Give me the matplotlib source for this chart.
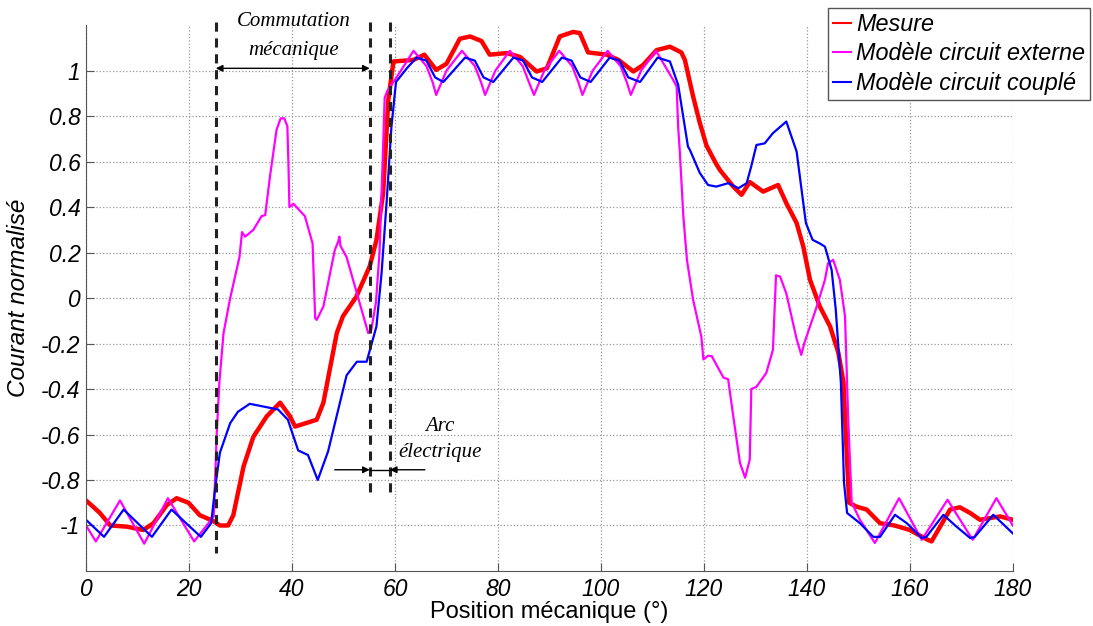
import matplotlib
matplotlib.use("Agg")
import matplotlib.pyplot as plt
import numpy as np

plt.rcParams['axes.unicode_minus'] = False

# ---- data ----
# Mesure (red)
x_mes = [0, 1.0, 2.7, 4.7, 7.9, 11.1, 13.1, 15.7, 17.6, 19.9, 22.1, 24.7, 26.0, 27.6,
         28.6, 30.6, 32.5, 35.1, 37.7, 39.6, 40.6, 44.8, 46.1, 48.7, 49.9, 52.5, 55.1,
         56.4, 57.7, 58.7, 59.7, 63.6, 65.7, 68.0, 70.0, 72.6, 74.6, 76.8, 78.4, 81.7,
         84.3, 87.5, 89.5, 92.0, 94.6, 95.9, 97.5, 101.1, 103.4, 106.3, 108.2, 110.8,
         113.4, 115.6, 116.3, 117.9, 119.2, 120.5, 122.3, 123.1, 125.7, 127.3, 128.9,
         131.5, 134.4, 136.0, 138.0, 139.3, 140.6, 142.5, 144.5, 146.1, 147.1, 147.7,
         148.2, 149.6, 151.6, 154.2, 157.0, 160.0, 163.2, 164.2, 166.0, 167.8, 169.7,
         171.7, 173.6, 177.5, 180]
y_mes = [-0.89, -0.91, -0.945, -1.0, -1.005, -1.02, -0.99, -0.91, -0.88, -0.90, -0.955,
         -0.98, -1.0, -1.0, -0.955, -0.74, -0.61, -0.52, -0.46, -0.52, -0.565, -0.535,
         -0.46, -0.154, -0.08, 0.006, 0.14, 0.255, 0.46, 0.87, 1.04, 1.047, 1.07, 1.003,
         1.03, 1.14, 1.15, 1.13, 1.07, 1.077, 1.06, 0.996, 1.01, 1.15, 1.17, 1.165, 1.08,
         1.07, 1.047, 0.996, 1.025, 1.09, 1.105, 1.08, 1.047, 0.886, 0.77, 0.67, 0.593,
         0.563, 0.49, 0.454, 0.51, 0.468, 0.497, 0.417, 0.33, 0.226, 0.08, -0.037, -0.125,
         -0.24, -0.37, -0.667, -0.90, -0.917, -0.93, -0.99, -1.0, -1.02, -1.06, -1.07,
         -1.0, -0.93, -0.92, -0.945, -0.975, -0.96, -0.975]

# Modele circuit externe (magenta)
x_ext = [0, 1.9, 6.6, 11.3, 15.9, 21.0, 24.8, 25.4, 25.9, 26.7, 28.0, 29.8, 30.3, 30.9,
         32.5, 34.1, 34.8, 35.7, 37.0, 37.8, 38.5, 39.1, 39.3, 39.5, 40.3, 42.5, 43.5,
         44.0, 44.5, 44.8, 46.1, 48.3, 49.0, 49.2, 49.4, 50.6, 53.7, 54.8, 55.4, 56.3,
         57.0, 57.6, 58.0, 58.5, 60.3, 62.0,
         63.6, 66.1, 67.3, 68.0, 70.0,
         73.0, 75.5, 76.7, 77.5, 79.5,
         82.3, 84.8, 86.0, 87.0, 89.0,
         91.9, 94.4, 95.6, 96.4, 98.4,
         101.3, 103.8, 105.0, 105.8, 107.8,
         110.7, 114.0, 114.7, 115.0, 115.3, 116.0, 116.7, 117.9, 119.5, 119.9, 120.8,
         121.5, 123.8, 124.7, 125.7, 127.0, 128.0, 128.9, 129.2, 130.2, 132.1, 133.4,
         134.0, 134.8, 136.0, 138.0, 138.9, 139.5, 141.7, 143.5, 144.1, 145.1, 146.4,
         147.4, 148.0, 148.7, 150.3, 153.2, 157.9, 162.3, 167.3, 172.2, 176.8, 180]
y_ext = [-1.0, -1.07, -0.89, -1.08, -0.88, -1.07, -0.96, -0.59, -0.37, -0.155, 0.0, 0.18,
         0.29, 0.27, 0.30, 0.36, 0.365, 0.53, 0.74, 0.79, 0.79, 0.755, 0.6, 0.40, 0.414,
         0.36, 0.28, 0.24, -0.088, -0.096, -0.037, 0.21, 0.25, 0.27, 0.23, 0.18, -0.066,
         -0.154, -0.14, -0.02, 0.2, 0.6, 0.88, 0.91, 0.97, 1.03,
         1.087, 1.02, 0.95, 0.893, 1.0,
         1.087, 1.02, 0.95, 0.893, 1.0,
         1.087, 1.02, 0.95, 0.893, 1.0,
         1.087, 1.02, 0.95, 0.893, 1.0,
         1.087, 1.02, 0.95, 0.893, 1.0,
         1.087, 0.96, 0.93, 0.75, 0.65, 0.36, 0.168, -0.008, -0.17, -0.27, -0.254,
         -0.255, -0.35, -0.357, -0.52, -0.725, -0.79, -0.71, -0.40, -0.39, -0.33, -0.228,
         0.10, 0.094, 0.02, -0.18, -0.25, -0.198, -0.052, 0.08, 0.153, 0.168, 0.08,
         -0.08, -0.52, -0.90, -0.975, -1.077, -0.88, -1.063, -0.887, -1.063, -0.88, -1.0]

# Modele circuit couple (blue)
x_cpl = [0, 3.5, 7.3, 12.8, 16.6, 22.3, 24.3, 25.0, 26.0, 28.0, 29.5, 31.8, 37.3, 39.2,
         41.2, 43.1, 45.0, 47.0, 50.6, 52.6, 54.5, 56.4, 57.4, 58.4, 59.3, 60.2, 62.3,
         64.2, 66.1, 67.8, 69.4,
         73.6, 75.5, 77.2, 79.1,
         83.0, 84.9, 86.6, 88.6,
         92.4, 94.3, 96.0, 98.0,
         101.7, 103.6, 105.3, 107.6,
         111.0, 113.4, 115.0, 116.9, 117.3, 119.2, 120.8, 122.4, 124.7, 126.7, 128.3,
         129.2, 130.2, 131.8, 133.4, 136.0, 138.0, 139.8, 141.1, 142.5, 143.5, 144.8,
         145.6, 146.6, 147.2, 147.8, 150.3, 152.9, 154.2, 157.1, 159.4, 162.3, 163.2,
         166.5, 169.0, 171.7, 172.6, 176.2, 180]
y_cpl = [-0.975, -1.05, -0.93, -1.05, -0.93, -1.05, -0.99, -0.85, -0.68, -0.55, -0.5,
         -0.465, -0.49, -0.535, -0.67, -0.69, -0.80, -0.675, -0.34, -0.28, -0.28, -0.125,
         0.11, 0.43, 0.75, 0.95, 1.01,
         1.057, 1.044, 0.97, 0.95,
         1.057, 1.044, 0.97, 0.95,
         1.057, 1.044, 0.97, 0.95,
         1.057, 1.044, 0.97, 0.95,
         1.057, 1.044, 0.97, 0.95,
         1.057, 1.04, 0.937, 0.666, 0.65, 0.55, 0.497, 0.49, 0.505, 0.483, 0.505,
         0.58, 0.673, 0.68, 0.725, 0.776, 0.644, 0.33, 0.256, 0.24, 0.226, 0.124,
         -0.05, -0.374, -0.81, -0.945, -0.99, -1.05, -1.05, -0.953, -0.99, -1.055, -1.05,
         -0.953, -1.004, -1.055, -1.05, -0.953, -1.035]

y_ticks = [-1, -0.8, -0.6, -0.4, -0.2, 0, 0.2, 0.4, 0.6, 0.8, 1]
y_ticklabels = ['-1', '-0.8', '-0.6', '-0.4', '-0.2', '0', '0.2', '0.4', '0.6', '0.8', '1']

# annotation positions (deg)
x_commut = [25.2, 55.1]
x_arc = 59.0

fig = plt.figure(figsize=(10.93, 6.26), dpi=100)
ax = fig.add_axes([0.0787, 0.0879, 0.848, 0.872])

ax.plot(x_mes, y_mes, color='#ff0000', lw=3.2, label='Mesure')
ax.plot(x_ext, y_ext, color='#ff00ff', lw=1.6, label='Modèle circuit externe')
ax.plot(x_cpl, y_cpl, color='#0000ff', lw=1.6, label='Modèle circuit couplé')

ax.set_xlim(0, 180)
ax.set_ylim(-1.2, 1.2)
ax.set_xticks(np.arange(0, 181, 20))
ax.set_yticks(y_ticks)
ax.set_yticklabels(y_ticklabels)

for lab in ax.get_xticklabels() + ax.get_yticklabels():
    lab.set_fontfamily('Liberation Sans')
    lab.set_fontstyle('italic')
    lab.set_fontsize(16.5)

ax.grid(True, linestyle=':', color='#999999', lw=0.9)
ax.spines['top'].set_visible(False)
ax.spines['right'].set_visible(False)
for s in ['left', 'bottom']:
    ax.spines[s].set_color('#555555')
ax.tick_params(direction='in', length=6, color='#555555')
ax.tick_params(axis='y', pad=4)
ax.tick_params(axis='x', pad=5)

ax.set_xlabel('Position mécanique (°)', fontfamily='Liberation Sans', fontsize=17, labelpad=0)
ax.set_ylabel('Courant normalisé', fontfamily='Liberation Sans', fontstyle='italic',
              fontsize=17.5, labelpad=8)

# dashed vertical lines
dash = dict(color='#222222', lw=2.2, linestyle=(0, (3, 2.2)), clip_on=False)
ax.plot([x_commut[0], x_commut[0]], [1.215, -1.12], **dash)
ax.plot([x_commut[1], x_commut[1]], [1.215, -0.86], **dash)
ax.plot([x_arc, x_arc], [1.215, -0.86], **dash)

serif = dict(family='Liberation Serif', style='italic', size=15)
ax.annotate('', xy=(x_commut[0], 1.01), xytext=(x_commut[1], 1.01),
            arrowprops=dict(arrowstyle='<|-|>', color='black', lw=1.0,
                            mutation_scale=10, shrinkA=0, shrinkB=0))
ax.text(40.4, 1.215, 'Commutation', ha='center', va='center', clip_on=False, **serif)
ax.text(40.4, 1.09, 'mécanique', ha='center', va='center', **serif)

ax.annotate('', xy=(x_commut[1], -0.755), xytext=(48.3, -0.755),
            arrowprops=dict(arrowstyle='-|>', color='black', lw=1.0,
                            mutation_scale=10, shrinkA=0, shrinkB=0))
ax.annotate('', xy=(x_arc, -0.755), xytext=(65.8, -0.755),
            arrowprops=dict(arrowstyle='-|>', color='black', lw=1.0,
                            mutation_scale=10, shrinkA=0, shrinkB=0))
ax.plot([x_commut[1], x_arc], [-0.755, -0.755], color='black', lw=1.0)
ax.text(68.7, -0.565, 'Arc', ha='center', va='center', **serif)
ax.text(68.7, -0.68, 'électrique', ha='center', va='center', **serif)

leg = ax.legend(loc='upper right', bbox_to_anchor=(1.083, 1.031),
                prop=dict(family='Liberation Sans', style='italic', size=16.8),
                handlelength=0.8, handletextpad=0.2, borderpad=0.2,
                labelspacing=0.28, borderaxespad=0, fancybox=False, framealpha=1)
leg.get_frame().set_edgecolor('#555555')
leg.get_frame().set_linewidth(1.0)
for h in leg.get_lines():
    h.set_linewidth(1.5)

fig.savefig('out.png', dpi=100)
